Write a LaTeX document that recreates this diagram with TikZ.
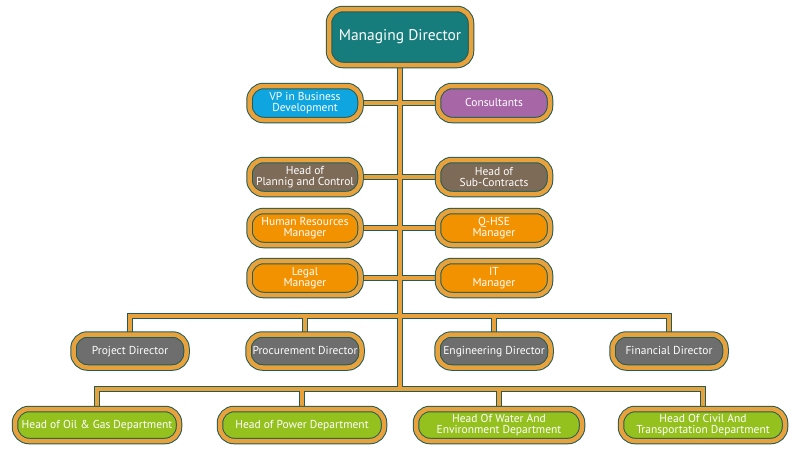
\documentclass[tikz,border=0pt]{standalone}
\usepackage{fontspec}
\setmainfont{PT Sans}
\usetikzlibrary{backgrounds}
\definecolor{orgedge}{RGB}{31, 92, 90}
\definecolor{orgband}{RGB}{233, 162, 59}
\definecolor{orgteal}{RGB}{22, 124, 124}
\definecolor{orgblue}{RGB}{15, 165, 224}
\definecolor{orgpurple}{RGB}{167, 103, 167}
\definecolor{orgbrown}{RGB}{125, 107, 88}
\definecolor{orgorange}{RGB}{243, 146, 0}
\definecolor{orggray}{RGB}{110, 110, 110}
\definecolor{orggreen}{RGB}{149, 193, 31}

\tikzset{
  orgbox/.style={draw=orgedge, line width=1pt, double=orgband, double distance=4.5pt,
    rounded corners=14pt, text=white, align=center, inner sep=0pt,
    font=\fontsize{11.5}{11}\selectfont, minimum width=111pt, minimum height=34pt},
  orgone/.style={text height=8.5pt, text depth=2.5pt},
  orgline/.style={draw=orgedge, line width=1pt, double=orgband, double distance=4pt}
}

\begin{document}
\begin{tikzpicture}[x=1pt, y=-1pt]
\useasboundingbox (0,0) rectangle (800,451);

% top
\node[orgbox, fill=orgteal, minimum width=142pt, minimum height=56pt, font=\fontsize{15.5}{17}\selectfont] (md) at (400,37) {Managing Director};

% staff rows
\node[orgbox, fill=orgblue] (vp) at (305,103) {VP in Business\\Development};
\node[orgbox, orgone, fill=orgpurple, minimum width=112pt] (cons) at (494,103) {Consultants};
\node[orgbox, fill=orgbrown] (plan) at (305,177) {Head of\\Plannig and Control};
\node[orgbox, fill=orgbrown, minimum width=112pt] (sub) at (494,177) {Head of\\Sub-Contracts};
\node[orgbox, fill=orgorange] (hr) at (305,228) {Human Resources\\Manager};
\node[orgbox, fill=orgorange, minimum width=112pt] (qhse) at (494,228) {Q-HSE\\Manager};
\node[orgbox, fill=orgorange] (legal) at (305,278) {Legal\\Manager};
\node[orgbox, fill=orgorange, minimum width=112pt] (it) at (494,278) {IT\\Manager};

% directors
\node[orgbox, orgone, fill=orggray, minimum width=113pt, minimum height=33pt] (pd) at (130,351) {Project Director};
\node[orgbox, orgone, fill=orggray, minimum width=113pt, minimum height=33pt] (proc) at (305,351) {Procurement Director};
\node[orgbox, orgone, fill=orggray, minimum width=113pt, minimum height=33pt] (eng) at (494,351) {Engineering Director};
\node[orgbox, orgone, fill=orggray, minimum width=113pt, minimum height=33pt] (fin) at (669,351) {Financial Director};

% departments
\node[orgbox, orgone, fill=orggreen, minimum width=164pt, minimum height=32pt] (oil) at (97,425) {Head of Oil \& Gas Department};
\node[orgbox, orgone, fill=orggreen, minimum width=164pt, minimum height=32pt] (pow) at (302,425) {Head of Power Department};
\node[orgbox, fill=orggreen, minimum width=166pt, minimum height=32pt] (wat) at (499,425) {Head Of Water And\\Environment Department};
\node[orgbox, fill=orggreen, minimum width=164pt, minimum height=32pt] (civ) at (703,425) {Head Of Civil And\\Transportation Department};

\coordinate (dbus) at (400,316);
\coordinate (hbus) at (400,389);

\begin{scope}[on background layer]
\fill[white] (0,0) rectangle (800,451);
\draw[orgline] (md.south) -- (hbus)
  (vp.east) -- (vp.east -| md.south)
  (cons.west) -- (cons.west -| md.south)
  (plan.east) -- (plan.east -| md.south)
  (sub.west) -- (sub.west -| md.south)
  (hr.east) -- (hr.east -| md.south)
  (qhse.west) -- (qhse.west -| md.south)
  (legal.east) -- (legal.east -| md.south)
  (it.west) -- (it.west -| md.south)
  (pd.north) |- (fin.north |- dbus) -- (fin.north)
  (proc.north) -- (proc.north |- dbus)
  (eng.north) -- (eng.north |- dbus)
  (oil.north) |- (civ.north |- hbus) -- (civ.north)
  (pow.north) -- (pow.north |- hbus)
  (wat.north) -- (wat.north |- hbus);
\end{scope}
\end{tikzpicture}
\end{document}
